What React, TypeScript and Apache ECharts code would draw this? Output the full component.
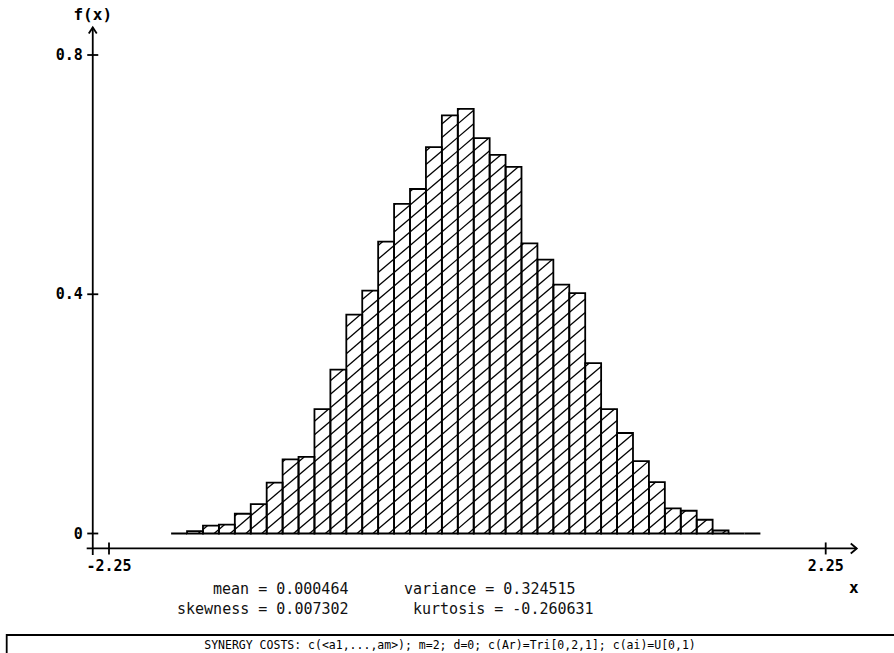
import React, { useEffect, useRef } from "react";
import * as echarts from "echarts";

// Histogram bins (lower edges) and density heights f(x)
const binStarts = [
  -1.86, -1.76, -1.66, -1.56, -1.46, -1.36, -1.26, -1.16, -1.06, -0.96,
  -0.86, -0.76, -0.66, -0.56, -0.46, -0.36, -0.26, -0.16, -0.06, 0.04,
  0.14, 0.24, 0.34, 0.44, 0.54, 0.64, 0.74, 0.84, 0.94, 1.04,
  1.14, 1.24, 1.34, 1.44, 1.54, 1.64, 1.74,
];
const binWidth = 0.1;
const density = [
  0, 0.004, 0.013, 0.015, 0.033, 0.049, 0.085, 0.124, 0.128, 0.208,
  0.274, 0.366, 0.406, 0.488, 0.551, 0.576, 0.646, 0.699, 0.71, 0.661,
  0.633, 0.613, 0.485, 0.458, 0.416, 0.402, 0.285, 0.208, 0.168, 0.121,
  0.086, 0.042, 0.038, 0.023, 0.005, 0, 0,
];

const xTicks = [-2.25, 2.25];
const xTickLabels = ["-2.25", "2.25"];
const yTicks = [0, 0.4, 0.8];
const yTickLabels = ["0", "0.4", "0.8"];
const statsRow1 = ["mean = 0.000464", "variance = 0.324515"];
const statsRow2 = ["skewness = 0.007302", "kurtosis = -0.260631"];
const footerText =
  "SYNERGY COSTS: c(<a1,...,am>); m=2; d=0; c(Ar)=Tri[0,2,1]; c(ai)=U[0,1)";

// axis extents (data units)
const yAxisAtX = -2.352;
const xAxisAtY = -0.025;
const xAxisFrom = -2.39;
const xAxisTo = 2.445;
const yAxisFrom = -0.036;
const yAxisTo = 0.846;

const BOLD = 'bold 15px "DejaVu Sans Mono", monospace';
const THIN = '15px "DejaVu Sans Mono", monospace';

export default function App() {
  const ref = useRef<HTMLDivElement>(null);
  useEffect(() => {
    if (!ref.current) return;
    const chart = echarts.init(ref.current, undefined, { renderer: "svg" });
    const slope = 0.85;
    const spacing = 13.5;
    chart.setOption({
      animation: false,
      backgroundColor: "#fff",
      grid: { left: 109, right: 68.3, top: 55, bottom: 119.5 },
      xAxis: { type: "value", min: -2.25, max: 2.25, show: false },
      yAxis: { type: "value", min: 0, max: 0.8, show: false },
      series: [
        {
          type: "custom",
          clip: false,
          data: binStarts.map((s, i) => [s, s + binWidth, density[i]]),
          renderItem: (params: any, api: any) => {
            const p0 = api.coord([api.value(0), 0]);
            const p1 = api.coord([api.value(1), api.value(2)]);
            const xl = p0[0], xr = p1[0], yb = p0[1], yt = p1[1];
            const children: any[] = [];
            const cMin = yt + slope * xl;
            const cMax = yb + slope * xr;
            for (let k = Math.ceil(cMin / spacing); k <= Math.floor(cMax / spacing); k++) {
              const c = k * spacing;
              const xa = Math.max(xl, (c - yb) / slope);
              const xb = Math.min(xr, (c - yt) / slope);
              if (xb - xa > 0.5) {
                children.push({
                  type: "line",
                  shape: { x1: xa, y1: c - slope * xa, x2: xb, y2: c - slope * xb },
                  style: { stroke: "#000", lineWidth: 1.3 },
                });
              }
            }
            children.push({
              type: "rect",
              shape: { x: xl, y: yt, width: xr - xl, height: yb - yt },
              style: { fill: "none", stroke: "#000", lineWidth: 1.8 },
            });
            return { type: "group", children };
          },
        },
      ],
    });

    const px = (x: number, y: number) =>
      chart.convertToPixel({ gridIndex: 0 }, [x, y]) as number[];
    const yx = px(yAxisAtX, 0)[0];
    const xy = px(0, xAxisAtY)[1];
    const yTop = px(0, yAxisTo)[1];
    const yBot = px(0, yAxisFrom)[1];
    const xL = px(xAxisFrom, 0)[0];
    const xR = px(xAxisTo, 0)[0];
    const ln = { stroke: "#000", lineWidth: 1.8 };
    const g: any[] = [
      { type: "line", shape: { x1: yx, y1: yBot, x2: yx, y2: yTop }, style: ln },
      {
        type: "polyline",
        shape: { points: [[yx - 4, yTop + 6], [yx, yTop], [yx + 4, yTop + 6]] },
        style: { ...ln, fill: "none" },
      },
      { type: "line", shape: { x1: xL, y1: xy, x2: xR, y2: xy }, style: ln },
      {
        type: "polyline",
        shape: { points: [[xR - 6, xy - 5], [xR, xy], [xR - 6, xy + 5]] },
        style: { ...ln, fill: "none" },
      },
      {
        type: "text",
        x: yx,
        y: 14,
        style: { text: "f(x)", font: 'bold 16px "DejaVu Sans Mono", monospace', fill: "#000", textAlign: "center", textVerticalAlign: "middle" },
      },
      {
        type: "text",
        x: xR - 3,
        y: 587,
        style: { text: "x", font: 'bold 16px "DejaVu Sans Mono", monospace', fill: "#000", textAlign: "center", textVerticalAlign: "middle" },
      },
    ];
    yTicks.forEach((v, i) => {
      const py = px(0, v)[1];
      g.push({ type: "line", shape: { x1: yx - 5.5, y1: py, x2: yx + 5.5, y2: py }, style: ln });
      g.push({
        type: "text",
        x: yx - 10,
        y: py,
        style: { text: yTickLabels[i], font: BOLD, fill: "#000", textAlign: "right", textVerticalAlign: "middle" },
      });
    });
    xTicks.forEach((v, i) => {
      const pxx = px(v, 0)[0];
      g.push({ type: "line", shape: { x1: pxx, y1: xy - 6, x2: pxx, y2: xy + 6 }, style: ln });
      g.push({
        type: "text",
        x: pxx,
        y: xy + 18,
        style: { text: xTickLabels[i], font: BOLD, fill: "#000", textAlign: "center", textVerticalAlign: "middle" },
      });
    });
    const st = (text: string, x: number, y: number) => ({
      type: "text",
      x,
      y,
      style: { text, font: THIN, fill: "#111", textAlign: "left", textVerticalAlign: "middle" },
    });
    g.push(st(statsRow1[0], 213, 589));
    g.push(st(statsRow1[1], 404, 589));
    g.push(st(statsRow2[0], 177, 609));
    g.push(st(statsRow2[1], 413, 609));
    g.push({
      type: "rect",
      shape: { x: 6.7, y: 635, width: 900, height: 40 },
      style: { fill: "none", stroke: "#000", lineWidth: 1.8 },
    });
    g.push({
      type: "text",
      x: 450,
      y: 645,
      style: { text: footerText, font: '11.5px "DejaVu Sans Mono", monospace', fill: "#000", textAlign: "center", textVerticalAlign: "middle" },
    });
    chart.setOption({ graphic: g });
    return () => chart.dispose();
  }, []);
  return (
    <div
      ref={ref}
      style={{ position: "fixed", left: 0, top: 0, width: 894, height: 653, background: "#fff" }}
    />
  );
}
